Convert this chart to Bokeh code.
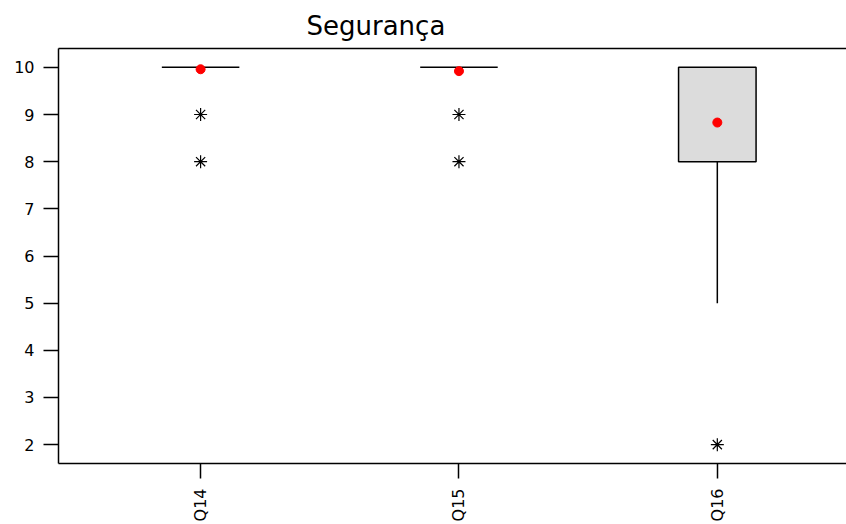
import math
from bokeh.plotting import figure
from bokeh.models import FixedTicker, LinearAxis, Range1d
from bokeh.embed import file_html
from bokeh.resources import INLINE

categories = ["Q14", "Q15", "Q16"]
q1 = [10, 10, 8]
median = [10, 10, 10]
q3 = [10, 10, 10]
whisker_low = [10, 10, 5]
whisker_high = [10, 10, 10]
means = [9.96, 9.92, 8.83]
outlier_cat = [1, 1, 2, 2, 3]
outlier_val = [9, 8, 9, 8, 2]
yticks = [2, 3, 4, 5, 6, 7, 8, 9, 10]

xs = [i + 1 for i in range(len(categories))]
bw = 0.3

p = figure(width=846, height=524, output_backend="svg", toolbar_location=None,
           x_range=Range1d(0.45, 3.5), y_range=Range1d(1.6, 10.4),
           min_border_left=58, min_border_right=0, min_border_top=48, min_border_bottom=60)
p.title.text = "Segurança"
p.title.text_font = "DejaVu Sans"
p.title.text_font_size = "26px"
p.title.text_font_style = "normal"
p.title.align = "left"
p.title.offset = 248
p.title.standoff = 16
p.title.text_color = "#000000"

p.grid.visible = False
p.outline_line_color = None
p.background_fill_color = "white"
p.border_fill_color = "white"

# boxes
for i, x in enumerate(xs):
    if q3[i] > q1[i]:
        p.quad(left=x - bw / 2, right=x + bw / 2, bottom=q1[i], top=q3[i],
               fill_color="#dcdcdc", line_color="black", line_width=1.5)
    else:
        p.segment(x0=x - bw / 2, x1=x + bw / 2, y0=median[i], y1=median[i],
                  line_color="black", line_width=1.5)
    if whisker_low[i] < q1[i]:
        p.segment(x0=x, x1=x, y0=whisker_low[i], y1=q1[i], line_color="black", line_width=1.5)
    if whisker_high[i] > q3[i]:
        p.segment(x0=x, x1=x, y0=q3[i], y1=whisker_high[i], line_color="black", line_width=1.5)

p.scatter(x=outlier_cat, y=outlier_val,
          marker="asterisk", size=13, line_color="black", line_width=1.2)
p.scatter(x=xs, y=means, marker="circle", size=9, fill_color="red", line_color="red")

for ax in (p.xaxis[0], p.yaxis[0]):
    ax.axis_line_width = 1.5
    ax.axis_line_color = "black"
    ax.major_tick_line_color = "black"
    ax.major_tick_line_width = 1.5
    ax.major_tick_out = 15
    ax.major_tick_in = 0
    ax.minor_tick_line_color = None
    ax.major_label_text_font = "DejaVu Sans"
    ax.major_label_text_color = "black"

p.yaxis.ticker = FixedTicker(ticks=yticks)
p.yaxis.major_label_text_font_size = "16px"
p.yaxis.major_label_standoff = 9

p.xaxis.ticker = FixedTicker(ticks=xs)
p.xaxis.major_label_overrides = {x: c for x, c in zip(xs, categories)}
p.xaxis.major_label_orientation = math.pi / 2
p.xaxis.major_label_text_font_size = "16px"
p.xaxis.major_label_standoff = 10

top = LinearAxis(ticker=FixedTicker(ticks=[]), axis_line_width=1.5, axis_line_color="black",
                 major_tick_line_color=None, minor_tick_line_color=None,
                 major_label_text_font_size="0px")
p.add_layout(top, "above")

open("out.html", "w").write(file_html(p, INLINE))
